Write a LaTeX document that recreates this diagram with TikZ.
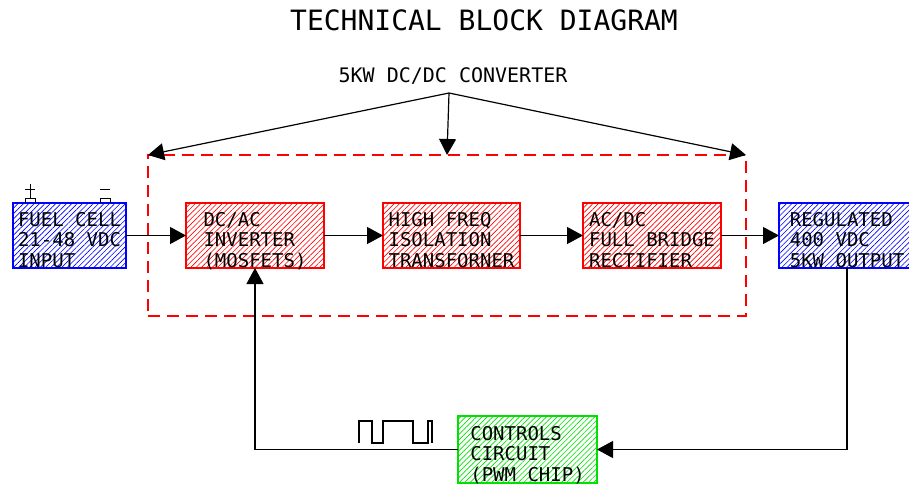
\documentclass[tikz,border=0pt]{standalone}
\usepackage{fontspec}
\newfontfamily\cadfont{DejaVu Sans Mono}
\usetikzlibrary{arrows.meta, positioning, patterns.meta}
\definecolor{CadBlue}{RGB}{0,0,255}
\definecolor{CadRed}{RGB}{255,0,0}
\definecolor{CadGreen}{RGB}{0,225,0}
% texto de bloque, bajado un poco dentro de la caja
\newcommand{\cadlines}[1]{\raisebox{-7pt}[\height][\depth]{\begin{tabular}{@{}l@{}}#1\end{tabular}}}

\begin{document}
\begin{tikzpicture}[
    x=1pt, y=-1pt,
    font=\cadfont,
    block/.style={draw=#1, line width=1.3pt, inner sep=0pt, outer sep=0pt,
        minimum width=138pt, minimum height=65pt,
        pattern={Lines[angle=45, distance=3.8pt, line width=0.65pt]},
        pattern color=#1,
        font=\cadfont\fontsize{19}{20.5}\selectfont},
    link/.style={-{Triangle[length=16pt, width=17pt]}, line width=1.2pt, black},
    wire/.style={line width=1.2pt, black},
]
\clip (0,0) rectangle (909,485);

% titulos
\node[font=\cadfont\fontsize{28}{30}\selectfont] (title) at (484,20) {TECHNICAL BLOCK DIAGRAM};
\node[font=\cadfont\fontsize{20}{21}\selectfont] (lbl) at (453,76) {5KW DC/DC CONVERTER};

% cadena de potencia
\node[block=CadBlue, minimum width=113pt] (fc) at (69.5,235.5) {\cadlines{FUEL CELL\\21-48 VDC\\INPUT}};
\node[block=CadRed, right=60pt of fc] (inv) {\cadlines{DC/AC\\INVERTER\\(MOSFETS)}};
\node[block=CadRed, right=59pt of inv, minimum width=137pt] (hf) {\cadlines{HIGH FREQ\\ISOLATION\\TRANSFORNER}};
\node[block=CadRed, right=63pt of hf] (rect) {\cadlines{AC/DC\\FULL BRIDGE\\RECTIFIER}};
\node[block=CadBlue, right=58pt of rect, minimum width=136pt] (out) {\cadlines{REGULATED\\400 VDC\\5KW OUTPUT}};
\draw[link] (fc) -- (inv);
\draw[link] (inv) -- (hf);
\draw[link] (hf) -- (rect);
\draw[link] (rect) -- (out);

% bornes de la pila
\foreach \tx in {30,105}
    \draw[line width=0.9pt] (\tx-5,203) -- (\tx-5,198) -- (\tx+5,198) -- (\tx+5,203);
\draw[line width=0.9pt] (25,189) -- (35,189) (30,184) -- (30,198);
\draw[line width=0.9pt] (100,189) -- (110,189);

% convertidor DC/DC
\node[draw=CadRed, line width=1.3pt, dash pattern=on 12pt off 7pt,
      minimum width=598pt, minimum height=161pt, inner sep=0pt, outer sep=0pt] (conv) at (447,235.5) {};
\coordinate (apex) at (449,93);
\foreach \a in {north west, north, north east} \draw[link] (apex) -- (conv.\a);

% lazo de control
\node[block=CadGreen, minimum width=139pt, minimum height=67pt] (ctl) at (527.5,449.5)
    {\cadlines{CONTROLS\\CIRCUIT\\(PWM CHIP)}};
\draw[link] (out.south) |- (ctl.east);
\draw[link] (ctl.west) -| (inv.south);

% senal PWM
\draw[wire] (359,443) -- ++(0,-22) -- ++(13,0) -- ++(0,22) -- ++(11,0) -- ++(0,-22)
    -- ++(30,0) -- ++(0,22) -- ++(15,0) -- ++(0,-22) -- ++(4,0) -- ++(0,22);

\end{tikzpicture}
\end{document}
